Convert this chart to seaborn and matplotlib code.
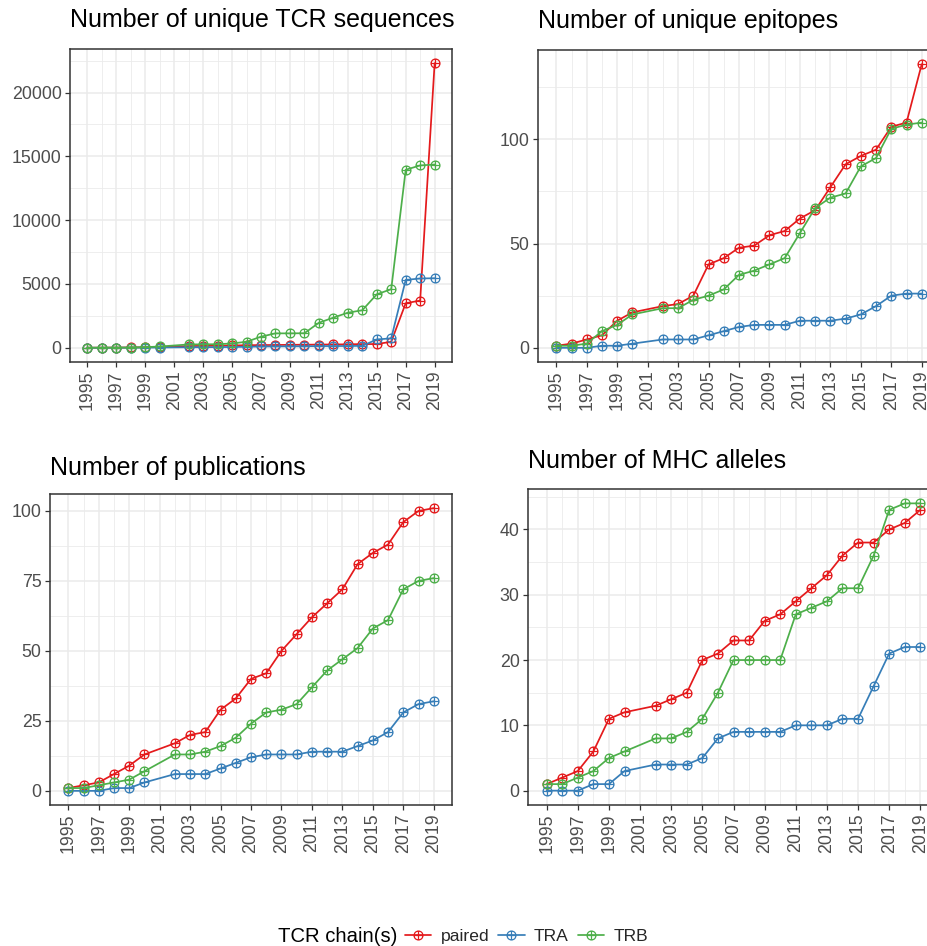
import numpy as np
import pandas as pd
import matplotlib
matplotlib.use("Agg")
import matplotlib.pyplot as plt
from matplotlib.path import Path
from matplotlib.lines import Line2D
import seaborn as sns

# ---------------- data ----------------
years = [1995, 1996, 1997, 1998, 1999, 2000, 2002, 2003, 2004, 2005, 2006, 2007,
         2008, 2009, 2010, 2011, 2012, 2013, 2014, 2015, 2016, 2017, 2018, 2019]
chains = ["paired", "TRA", "TRB"]

tcr_paired = [5, 10, 15, 25, 40, 60, 130, 150, 160, 180, 200, 210,
              220, 230, 240, 250, 260, 270, 290, 290, 470, 3490, 3700, 22300]
tcr_tra = [0, 2, 4, 8, 12, 20, 40, 45, 50, 60, 80, 100,
           110, 115, 120, 130, 135, 140, 150, 650, 740, 5320, 5430, 5450]
tcr_trb = [5, 8, 12, 20, 50, 100, 260, 270, 280, 340, 470, 870,
           1130, 1130, 1140, 1960, 2360, 2750, 2940, 4190, 4590, 13950, 14290, 14360]

epi_paired = [1, 2, 4, 6, 13, 17, 20, 21, 25, 40, 43, 48,
              49, 54, 56, 62, 66, 77, 88, 92, 95, 106, 108, 136]
epi_tra = [0, 0, 0, 1, 1, 2, 4, 4, 4, 6, 8, 10,
           11, 11, 11, 13, 13, 13, 14, 16, 20, 25, 26, 26]
epi_trb = [1, 1, 2, 8, 11, 16, 19, 19, 23, 25, 28, 35,
           37, 40, 43, 55, 67, 72, 74, 87, 91, 105, 107, 108]

pub_paired = [1, 2, 3, 6, 9, 13, 17, 20, 21, 29, 33, 40,
              42, 50, 56, 62, 67, 72, 81, 85, 88, 96, 100, 101]
pub_tra = [0, 0, 0, 1, 1, 3, 6, 6, 6, 8, 10, 12,
           13, 13, 13, 14, 14, 14, 16, 18, 21, 28, 31, 32]
pub_trb = [1, 1, 2, 3, 4, 7, 13, 13, 14, 16, 19, 24,
           28, 29, 31, 37, 43, 47, 51, 58, 61, 72, 75, 76]

mhc_paired = [1, 2, 3, 6, 11, 12, 13, 14, 15, 20, 21, 23,
              23, 26, 27, 29, 31, 33, 36, 38, 38, 40, 41, 43]
mhc_tra = [0, 0, 0, 1, 1, 3, 4, 4, 4, 5, 8, 9,
           9, 9, 9, 10, 10, 10, 11, 11, 16, 21, 22, 22]
mhc_trb = [1, 1, 2, 3, 5, 6, 8, 8, 9, 11, 15, 20,
           20, 20, 20, 27, 28, 29, 31, 31, 36, 43, 44, 44]

titles = ["Number of unique TCR sequences", "Number of unique epitopes",
          "Number of publications", "Number of MHC alleles"]
x_ticks = list(range(1995, 2020, 2))
x_minor = list(range(1996, 2019, 2))
y_ticks = [[0, 5000, 10000, 15000, 20000], [0, 50, 100],
           [0, 25, 50, 75, 100], [0, 10, 20, 30, 40]]
y_minor = [[2500, 7500, 12500, 17500, 22500], [25, 75, 125],
           [12.5, 37.5, 62.5, 87.5], [5, 15, 25, 35, 45]]

panels = [
    (tcr_paired, tcr_tra, tcr_trb),
    (epi_paired, epi_tra, epi_trb),
    (pub_paired, pub_tra, pub_trb),
    (mhc_paired, mhc_tra, mhc_trb),
]

colors = ["#E41A1C", "#377EB8", "#4DAF4A"]
palette = dict(zip(chains, colors))

# ---------------- style ----------------
sns.set_theme(style="white")
plt.rcParams["font.family"] = ["Liberation Sans", "DejaVu Sans"]

W, H = 927, 946
fig = plt.figure(figsize=(W / 100, H / 100), dpi=100)

# axes boxes in pixels: left, right, top, bottom
boxes = [(70, 452, 49, 362), (538, 940, 50, 362),
         (50, 452, 494, 805), (528, 939, 489, 805)]
title_gap = [22, 22, 19, 21]

circ = Path.unit_circle()
marker_path = Path.make_compound_path(
    circ,
    Path([[-1, 0], [1, 0]], [Path.MOVETO, Path.LINETO]),
    Path([[0, -1], [0, 1]], [Path.MOVETO, Path.LINETO]),
)

for i, (vals, (l, r, t, b)) in enumerate(zip(panels, boxes)):
    ax = fig.add_axes([l / W, (H - b) / H, (r - l) / W, (b - t) / H])
    frames = []
    for c, v in zip(chains, vals):
        frames.append(pd.DataFrame({"year": years, "value": v, "chain": c}))
    df = pd.concat(frames, ignore_index=True)
    sns.lineplot(data=df, x="year", y="value", hue="chain", hue_order=chains,
                 palette=palette, marker=marker_path, markersize=6.4,
                 linewidth=1.25, errorbar=None, legend=False, ax=ax)
    for ln in ax.lines:
        ln.set_markeredgecolor(ln.get_color())
        ln.set_markerfacecolor("none")
        ln.set_markeredgewidth(0.9)

    allv = np.concatenate([np.asarray(v, float) for v in vals])
    lo, hi = allv.min(), allv.max()
    pad = (hi - lo) * 0.05
    ax.set_ylim(lo - pad, hi + pad)
    ax.set_xlim(1995 - 1.2, 2019 + 1.2)

    ax.set_xticks(x_ticks)
    ax.set_xticks(x_minor, minor=True)
    ax.set_xticklabels([str(x) for x in x_ticks], rotation=90)
    ax.set_yticks(y_ticks[i])
    ax.set_yticks(y_minor[i], minor=True)
    ax.set_yticklabels([str(y) for y in y_ticks[i]])

    ax.set_axisbelow(True)
    ax.grid(which="major", color="#EBEBEB", linewidth=1.1)
    ax.grid(which="minor", color="#EBEBEB", linewidth=0.6)
    ax.tick_params(which="major", direction="out", length=3.5, width=0.9,
                   color="#333333", labelsize=12.8, labelcolor="#4D4D4D",
                   bottom=True, left=True, pad=2.5)
    ax.tick_params(which="minor", length=0, bottom=False, left=False)
    for s in ax.spines.values():
        s.set_color("#333333")
        s.set_linewidth(1.1)
    ax.set_xlabel("")
    ax.set_ylabel("")
    ax.set_facecolor("white")
    ax.set_title(titles[i], loc="left", fontsize=18, color="black",
                 pad=title_gap[i] * 0.72)

# ---------------- legend ----------------
fig.text(278 / W, 1 - 936 / H, "TCR chain(s)", fontsize=14.6, color="black",
         ha="left", va="center")
handles = [Line2D([0], [0], color=c, linewidth=1.25, marker=marker_path,
                  markersize=6.4, markerfacecolor="none", markeredgecolor=c,
                  markeredgewidth=0.9) for c in colors]
fig.legend(handles, chains, loc="center left",
           bbox_to_anchor=(405 / W, 1 - 936 / H), ncol=3, frameon=False,
           fontsize=12.6, handlelength=1.5, handletextpad=0.55,
           columnspacing=0.5, borderaxespad=0, borderpad=0)

fig.savefig("out.png", dpi=100, facecolor="white")
